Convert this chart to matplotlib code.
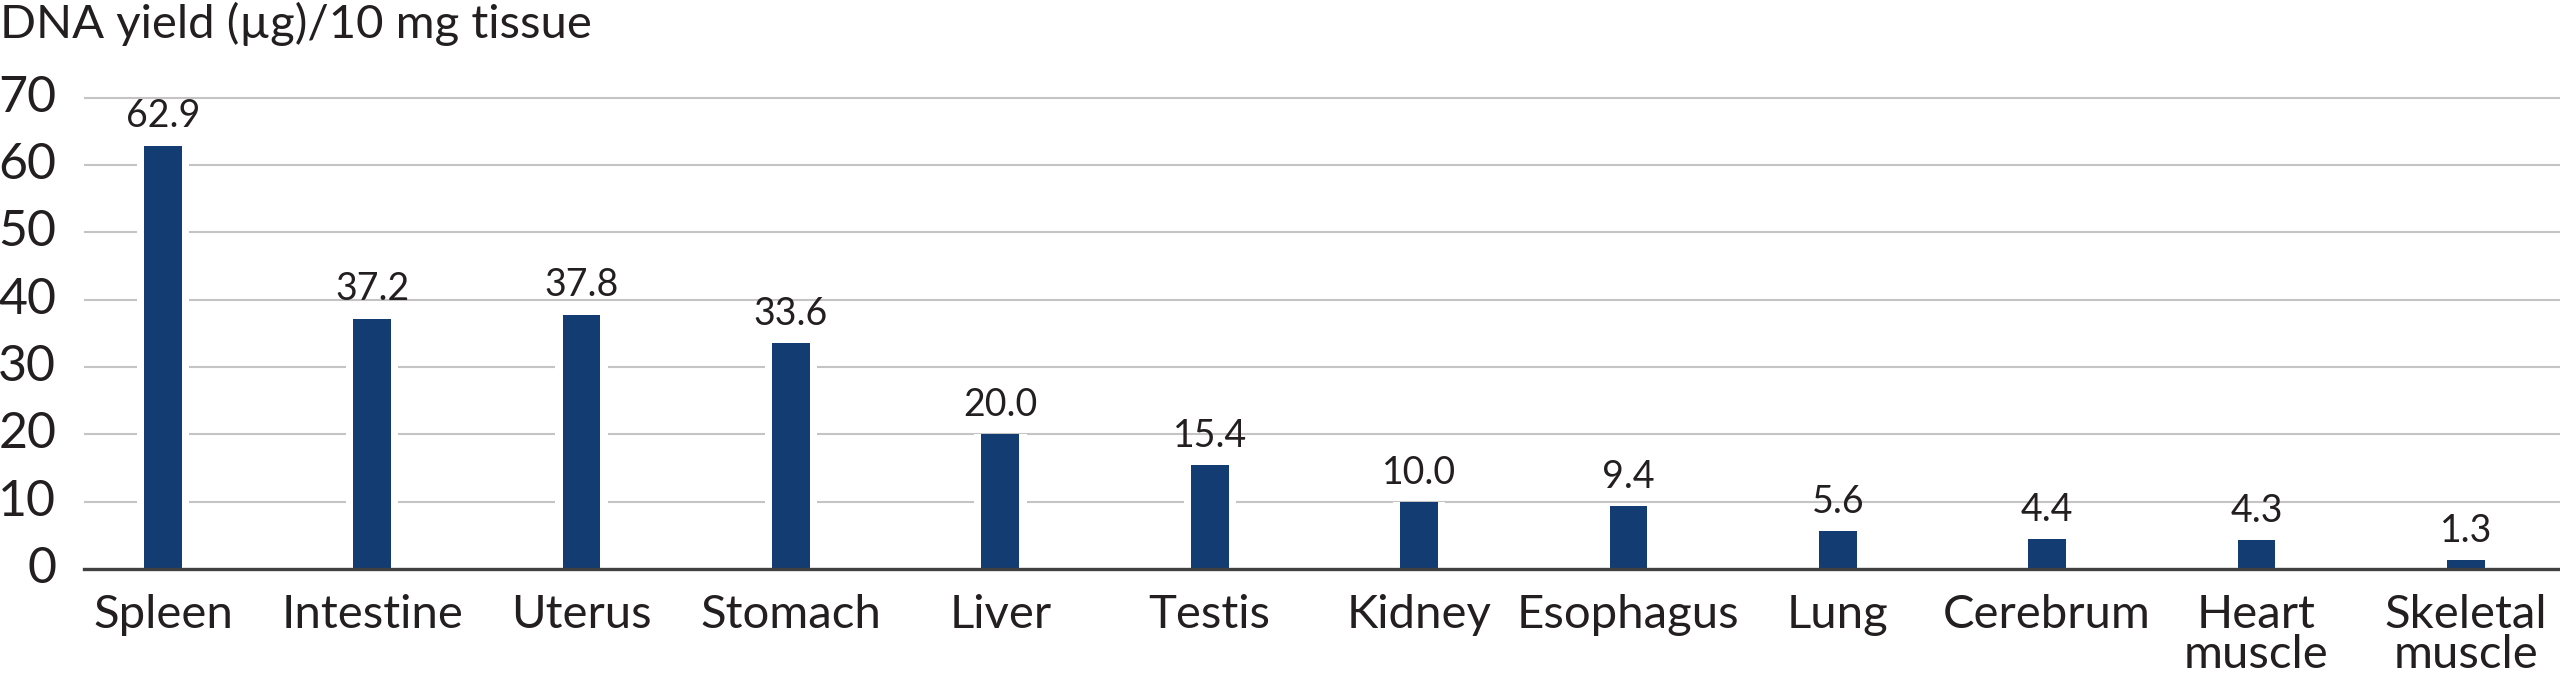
import matplotlib

matplotlib.use("Agg")
import matplotlib.pyplot as plt
import numpy as np

tissues = ["Spleen", "Intestine", "Uterus", "Stomach", "Liver", "Testis",
           "Kidney", "Esophagus", "Lung", "Cerebrum", "Heart\nmuscle", "Skeletal\nmuscle"]
yields = [62.9, 37.2, 37.8, 33.6, 20.0, 15.4, 10.0, 9.4, 5.6, 4.4, 4.3, 1.3]
yticks = [0, 10, 20, 30, 40, 50, 60, 70]

BAR = "#123c72"
TXT = "#231f20"

plt.rcParams["font.family"] = ["Lato", "DejaVu Sans"]

fig = plt.figure(figsize=(25.6, 6.99), dpi=100)
ax = fig.add_axes((84 / 2560, 130 / 699, 1 - 84 / 2560, 478 / 699))

xs = np.arange(len(tissues))
# white halo behind bars breaks the gridlines like the original
ax.bar(xs, yields, width=0.25, color="white", zorder=2)
ax.bar(xs, yields, width=0.18, color=BAR, zorder=3)

for x, v in zip(xs, yields):
    ax.annotate(f"{v:.1f}", (x, v), xytext=(0, 8), textcoords="offset points",
                ha="center", va="bottom", fontsize=27, color=TXT, zorder=4)

ax.set_xlim(-0.377, 11.45)
ax.set_ylim(0, 71)
ax.set_yticks(yticks)
ax.set_yticklabels([str(t) for t in yticks])
ax.set_xticks(xs)
ax.set_xticklabels(tissues, linespacing=0.95)
ax.tick_params(axis="both", length=0, labelcolor=TXT)
ax.tick_params(axis="y", pad=20, labelsize=36)
ax.tick_params(axis="x", pad=18, labelsize=34)
for lab in ax.get_yticklabels():
    lab.set_verticalalignment("center")

ax.grid(axis="y", color="#c4c4c4", linewidth=1.5, zorder=1)
ax.set_axisbelow(True)
for s in ["top", "right", "left"]:
    ax.spines[s].set_visible(False)
ax.spines["bottom"].set_color("#404040")
ax.spines["bottom"].set_linewidth(2.4)
ax.spines["bottom"].set_zorder(5)

fig.text(0.0, 1 - 2 / 699, "DNA yield (µg)/10 mg tissue", ha="left", va="top",
         fontsize=34, color=TXT)

fig.savefig("out.png", dpi=100)
